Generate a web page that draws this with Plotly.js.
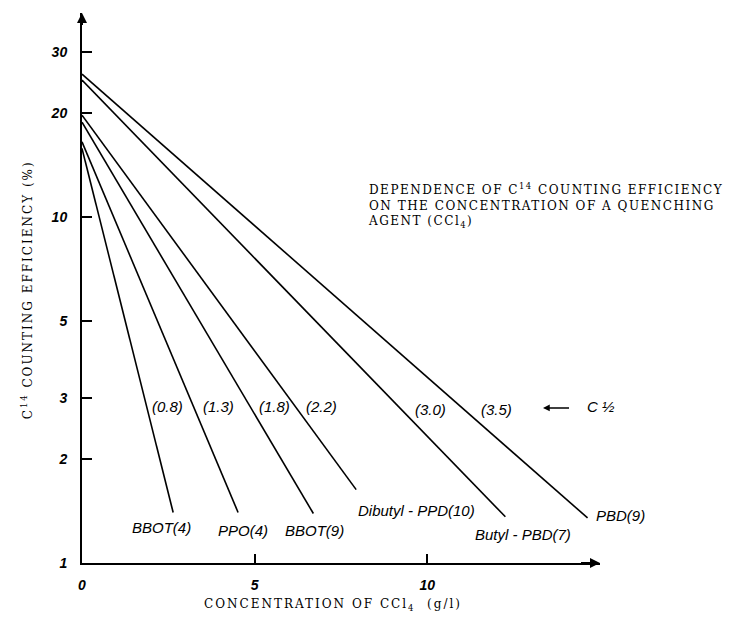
<!DOCTYPE html>
<html>
<head>
<meta charset="utf-8">
<script src="https://cdn.plot.ly/plotly-3.0.1.min.js"></script>
<style>html,body{margin:0;padding:0;background:#fff;}#chart{width:740px;height:627px;}</style>
</head>
<body>
<div id="chart"></div>
<script>
// ---- data ----
const scintillators = ['BBOT(4)', 'PPO(4)', 'BBOT(9)', 'Dibutyl - PPD(10)', 'Butyl - PBD(7)', 'PBD(9)'];
const halfConc = ['(0.8)', '(1.3)', '(1.8)', '(2.2)', '(3.0)', '(3.5)'];
const startConc = [0, 0, 0, 0, 0, 0];
const startEff = [15.8, 16.5, 18.8, 19.7, 24.9, 25.9];
const endConc = [2.64, 4.52, 6.70, 7.94, 12.26, 14.64];
const endEff = [1.40, 1.40, 1.39, 1.63, 1.36, 1.35];
const yTickVals = [1, 2, 3, 5, 10, 20, 30];
const yTickText = ['1', '2', '3', '5', '10', '20', '30'];
const xTickVals = [0, 5, 10];
const xTickText = ['0', '5', '10'];

// ---- layout positions (label placement in paper coords) ----
const nameLabelPos = [[0.154, 0.064], [0.310, 0.060], [0.448, 0.060], [0.645, 0.096], [0.851, 0.051], [1.039, 0.087]];
const halfLabelPos = [[0.166, 0.284], [0.263, 0.284], [0.372, 0.284], [0.463, 0.284], [0.672, 0.280], [0.801, 0.280]];

const italicFont = {family: 'Liberation Sans, Arial, sans-serif', size: 15, color: '#000', style: 'italic'};
const serifFont = {family: 'DejaVu Serif, serif', size: 12, color: '#000'};
const ls = (t, s) => '<span style="letter-spacing:' + s + 'px">' + t + '</span>';

const traces = scintillators.map((n, i) => ({
  type: 'scatter', mode: 'lines', name: n,
  x: [startConc[i], endConc[i]], y: [startEff[i], endEff[i]],
  line: {color: '#000', width: 1.6}, showlegend: false, hoverinfo: 'skip'
}));

const annotations = [];
scintillators.forEach((n, i) => annotations.push({
  x: nameLabelPos[i][0], y: nameLabelPos[i][1], xref: 'paper', yref: 'paper',
  text: n, showarrow: false, font: italicFont, xanchor: 'center', yanchor: 'middle'
}));
halfConc.forEach((h, i) => annotations.push({
  x: halfLabelPos[i][0], y: halfLabelPos[i][1], xref: 'paper', yref: 'paper',
  text: h, showarrow: false, font: italicFont, xanchor: 'center', yanchor: 'middle'
}));
// C 1/2 marker
annotations.push({x: 0.890, y: 0.282, xref: 'paper', yref: 'paper', ax: 29, ay: 0,
  text: ' ', showarrow: true, arrowhead: 2, arrowsize: 0.9, arrowwidth: 1.5, arrowcolor: '#000'});
annotations.push({x: 0.971, y: 0.284, xref: 'paper', yref: 'paper', text: 'C ½', showarrow: false,
  font: italicFont, xanchor: 'left', yanchor: 'middle'});
// axis arrowheads
annotations.push({x: 0, y: 1, xref: 'paper', yref: 'paper', ax: 0, ay: 22, text: ' ', showarrow: true,
  arrowhead: 2, arrowsize: 1, arrowwidth: 2, arrowcolor: '#000'});
annotations.push({x: 1, y: 0, xref: 'paper', yref: 'paper', ax: -22, ay: 0, text: ' ', showarrow: true,
  arrowhead: 2, arrowsize: 1, arrowwidth: 2, arrowcolor: '#000'});
// description block
annotations.push({x: 0.548, y: 0.698, xref: 'paper', yref: 'paper', xanchor: 'left', yanchor: 'top', align: 'left',
  showarrow: false, font: serifFont,
  text: ls('DEPENDENCE OF C<sup>14</sup> COUNTING EFFICIENCY', 1.5) + '<br>' + ls('ON THE CONCENTRATION OF A QUENCHING', 1.5) + '<br>' + ls('AGENT (CCl<sub>4</sub>)', 1.5)});
// axis titles
annotations.push({x: -0.106, y: 0.496, xref: 'paper', yref: 'paper', textangle: -90, showarrow: false,
  font: serifFont, xanchor: 'center', yanchor: 'middle',
  text: ls('C<sup>14</sup> COUNTING EFFICIENCY (%)', 2)});
annotations.push({x: 0.485, y: -0.076, xref: 'paper', yref: 'paper', showarrow: false,
  font: serifFont, xanchor: 'center', yanchor: 'middle',
  text: ls('CONCENTRATION OF CCl<sub>4</sub>  (g/l)', 2)});

const tickFont = {family: 'Liberation Sans, Arial, sans-serif', size: 14, color: '#000', style: 'italic', weight: 'bold'};

const layout = {
  width: 740, height: 627,
  margin: {l: 82, r: 140, t: 13, b: 64},
  paper_bgcolor: '#fff', plot_bgcolor: '#fff',
  showlegend: false,
  xaxis: {
    range: [0, 15], showgrid: false, zeroline: false, showline: true, linecolor: '#000', linewidth: 2,
    tickvals: xTickVals, ticktext: xTickText, ticks: 'inside', ticklen: 9, tickwidth: 2, tickcolor: '#000',
    tickfont: tickFont, ticklabelstandoff: 8
  },
  yaxis: {
    type: 'log', range: [0, 1.59], showgrid: false, zeroline: false, showline: true, linecolor: '#000', linewidth: 2,
    tickvals: yTickVals, ticktext: yTickText, ticks: 'inside', ticklen: 10, tickwidth: 2, tickcolor: '#000',
    tickfont: tickFont, ticklabelstandoff: 10
  },
  annotations: annotations
};

Plotly.newPlot('chart', traces, layout, {staticPlot: true, displayModeBar: false});
</script>
</body>
</html>
